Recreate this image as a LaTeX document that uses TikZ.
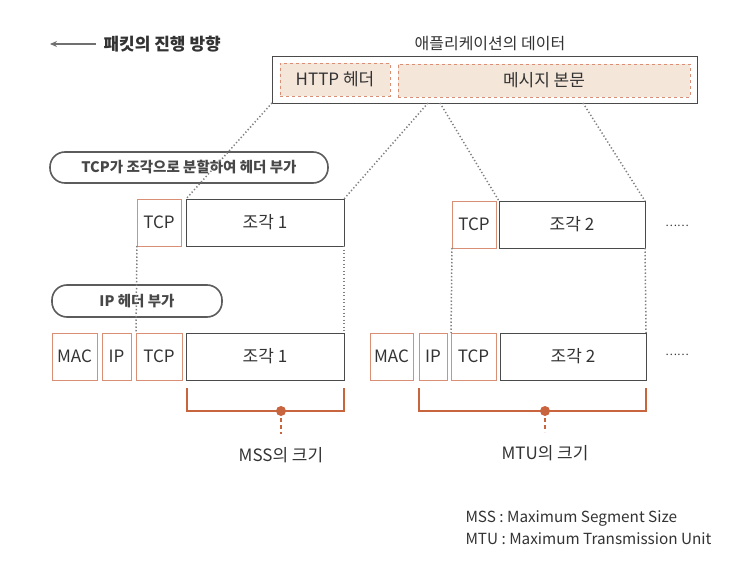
\documentclass[tikz,border=0pt]{standalone}
\usepackage{fontspec}
\setmainfont{Noto Sans CJK KR}
\usetikzlibrary{arrows.meta,calc}
\definecolor{txt}{HTML}{333333}
\definecolor{darkline}{HTML}{4A4A4A}
\definecolor{salmon}{HTML}{D98E76}
\definecolor{bracket}{HTML}{C8653F}
\definecolor{peach}{HTML}{F5E6DA}
\definecolor{dotgray}{HTML}{808080}
\tikzset{
  base/.style={inner sep=0pt, outer sep=0pt, anchor=north west, text=txt, font=\fontsize{17}{20}\selectfont},
  hbox/.style={base, draw=salmon, line width=0.8pt},
  dbox/.style={base, draw=darkline, line width=0.9pt},
  dashbox/.style={base, draw=salmon, dashed, fill=peach, line width=0.8pt},
  pill/.style={base, draw=darkline!90, line width=1.6pt, rounded corners=15pt, font=\bfseries\fontsize{14.5}{17}\selectfont, text=txt!90},
  dotline/.style={draw=dotgray, line width=1.5pt, dash pattern=on 1.3pt off 2.2pt},
  brk/.style={draw=bracket, line width=1.6pt},
  lbl/.style={text=txt, font=\fontsize{17}{20}\selectfont},
}
\begin{document}
\begin{tikzpicture}[x=1pt,y=-1pt]
\useasboundingbox (0,0) rectangle (749,580);
\fill[white] (0,0) rectangle (749,580);

% top left: direction
\coordinate (arrE) at (96,44);
\coordinate (arrS) at (50,44);
\draw[draw=txt!70, line width=1.2pt, -{Stealth[length=7pt,width=6pt]}] (arrE) -- (arrS);
\node[lbl, anchor=west, font=\bfseries\fontsize{17}{20}\selectfont] (dir) at (100,44) {패킷의 진행 방향};

% application data
\node[lbl, font=\fontsize{16}{19}\selectfont] (apptitle) at (490,44) {애플리케이션의 데이터};
\node[dbox, minimum width=425pt, minimum height=47pt] (outer) at (272,56) {};
\node[dashbox, minimum width=110pt, minimum height=33pt] (http) at (280,63) {HTTP 헤더};
\node[dashbox, minimum width=292pt, minimum height=33pt] (msg) at (398,64) {메시지 본문};

% pill 1
\node[pill, minimum width=278pt, minimum height=31pt] (pill1) at (50,152) {TCP가 조각으로 분할하여 헤더 부가};

% row 1
\node[hbox, minimum width=44pt, minimum height=47pt] (tcp1) at (137,199) {TCP};
\node[dbox, minimum width=158pt, minimum height=47pt] (frag1) at (186,199) {조각 1};
\node[hbox, minimum width=44pt, minimum height=47pt] (tcp2) at (452,201) {TCP};
\node[dbox, minimum width=146pt, minimum height=47pt] (frag2) at (499,201) {조각 2};
\node[lbl, font=\fontsize{11}{12}\selectfont] (ell1) at (677,226) {……};

% dotted lines from app data
\coordinate (o1) at ($(outer.south west)$);
\coordinate (o2) at ($(outer.south west)+(156,0)$);
\coordinate (o3) at ($(outer.south west)+(168,0)$);
\coordinate (o4) at ($(outer.south west)+(311,0)$);
\draw[dotline] (o1) -- (frag1.north west);
\draw[dotline] (o2) -- (frag1.north east);
\draw[dotline] (o3) -- (frag2.north west);
\draw[dotline] (o4) -- (frag2.north east);

% pill 2
\node[pill, minimum width=170pt, minimum height=32pt] (pill2) at (52,285) {IP 헤더 부가};

% row 2
\node[hbox, minimum width=45pt, minimum height=47pt] (mac3) at (52,333) {MAC};
\node[hbox, minimum width=29pt, minimum height=47pt] (ip3) at (102,333) {IP};
\node[hbox, minimum width=46pt, minimum height=47pt] (tcp3) at (136,333) {TCP};
\node[dbox, minimum width=158pt, minimum height=47pt] (frag3) at (186,333) {조각 1};
\node[hbox, minimum width=43pt, minimum height=47pt] (mac4) at (370,333) {MAC};
\node[hbox, minimum width=28pt, minimum height=47pt] (ip4) at (419,333) {IP};
\node[hbox, minimum width=45pt, minimum height=47pt] (tcp4) at (451,333) {TCP};
\node[dbox, minimum width=146pt, minimum height=47pt] (frag4) at (500,333) {조각 2};
\node[lbl, font=\fontsize{11}{12}\selectfont] (ell2) at (677,355) {……};

% vertical dotted lines
\draw[dotline] (tcp1.south west) -- (tcp3.north west);
\draw[dotline] (frag1.south east) -- (frag3.north east);
\draw[dotline] (tcp2.south west) -- (tcp4.north west);
\draw[dotline] (frag2.south east) -- (frag4.north east);

% brackets
\coordinate (b1a) at (187,388);
\coordinate (b1b) at (344,388);
\coordinate (b1m) at (281,411);
\draw[brk] (b1a) |- (b1m) -| (b1b);
\fill[bracket] (b1m) circle (5pt);
\node[lbl] (mss) at (281,455) {MSS의 크기};
\draw[brk, line width=1.4pt, dash pattern=on 4pt off 3pt] (b1m) -- (mss.north |- 0,434);

\coordinate (b2a) at (419,388);
\coordinate (b2b) at (646,388);
\coordinate (b2m) at (545,411);
\draw[brk] (b2a) |- (b2m) -| (b2b);
\fill[bracket] (b2m) circle (5pt);
\node[lbl] (mtu) at (545,453) {MTU의 크기};
\draw[brk, line width=1.4pt, dash pattern=on 4pt off 3pt] (b2m) -- (mtu.north |- 0,432);

% legend
\node[lbl, anchor=west, font=\fontsize{15.3}{18}\selectfont] (leg1) at (462,518) {MSS : Maximum Segment Size};
\node[lbl, anchor=west, font=\fontsize{15.3}{18}\selectfont] (leg2) at (462,539) {MTU : Maximum Transmission Unit};
\end{tikzpicture}
\end{document}
